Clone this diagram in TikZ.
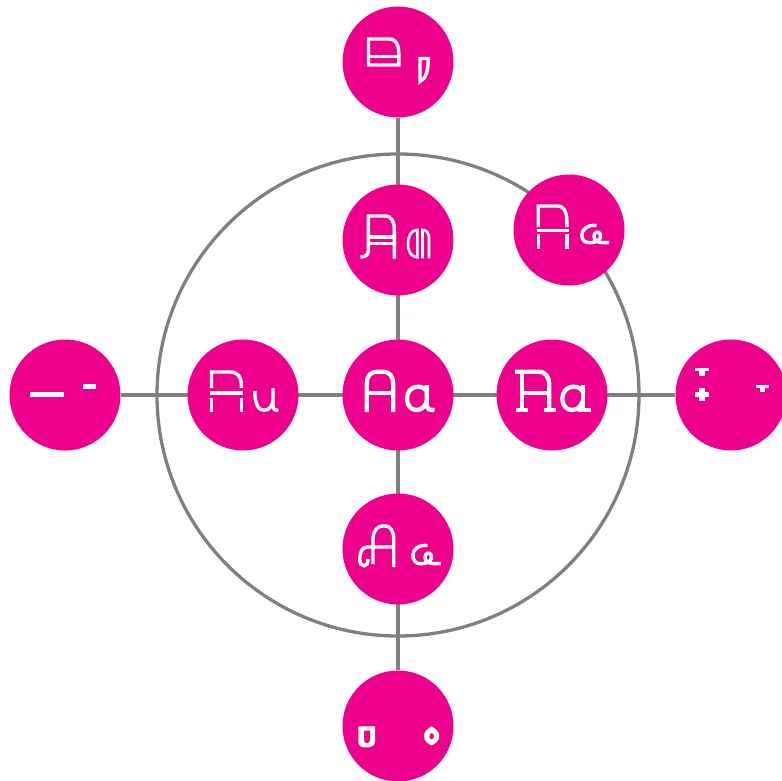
\documentclass[tikz,border=0pt]{standalone}
\usetikzlibrary{backgrounds}
\definecolor{mag}{HTML}{EC008C}
\definecolor{ax}{HTML}{808080}
\tikzset{
  dot/.style={circle,fill=mag,minimum size=111pt,inner sep=0pt},
  conn/.style={draw=ax,line width=4pt},
  ring/.style={draw=ax,line width=3.3pt},
  gl/.style={draw=white,line width=4.3pt,line cap=butt,line join=miter},
  glm/.style={gl,line width=3.4pt},
  gls/.style={gl,line width=2.6pt},
}
\begin{document}
\begin{tikzpicture}[x=1pt,y=-1pt]
\useasboundingbox (0,0) rectangle (782,781);
\clip (0,0) rectangle (782,781);
\node[dot] (t)  at (398,62)  {};
\node[dot] (t2) at (398,240) {};
\node[dot] (tr) at (569,230) {};
\node[dot] (L)  at (65,395)  {};
\node[dot] (l)  at (243,395) {};
\node[dot] (c)  at (398,395) {};
\node[dot] (r)  at (552,395) {};
\node[dot] (R)  at (731,395) {};
\node[dot] (b2) at (398,549) {};
\node[dot] (B)  at (398,726) {};
\begin{scope}[on background layer]
  \draw[ring] (c.center) circle[radius=241pt];
  \draw[conn] (t) -- (B);
  \draw[conn] (L) -- (R);
\end{scope}
% top
\begin{scope}[shift={(t.center)}]
  \draw[glm] (-29.5,3) -- (-29.5,-23) -- (-9,-23) .. controls (-2,-23) and (0.8,-17) .. (0.8,-9) -- (0.8,3) -- cycle;
  \draw[glm] (-29.5,-5.5) -- (0.8,-5.5);
  \draw[glm] (22,19.5) -- (22,-3.5) -- (30.3,-3.5) .. controls (30.3,8) and (28,17) .. cycle;
\end{scope}
% second from top
\begin{scope}[shift={(t2.center)}]
  \draw[glm] (-37.5,17) .. controls (-33,17) and (-29.7,15) .. (-29.7,11) -- (-29.7,-24) -- (-13,-24) .. controls (-6,-24) and (-3.7,-18) .. (-3.7,-10) -- (-3.7,18.7);
  \draw[glm] (-29.7,-3) -- (-3.7,-3);
  \draw[glm] (-29.7,3.7) -- (-3.7,3.7);
  \draw[gls] (19.3,-10) .. controls (12.5,-10) and (10,-3) .. (10,3.8) .. controls (10,10.5) and (12.5,17.2) .. (19.3,17.2) -- cycle;
  \draw[gls] (24.5,18.3) -- (24.5,-10) .. controls (28.5,-10) and (31,-7) .. (31,-2) -- (31,18.3);
\end{scope}
% top right
\begin{scope}[shift={(tr.center)}]
  \draw[glm] (-30.8,-3) -- (-30.8,-24) -- (-12,-24) .. controls (-5,-24) and (-2.2,-18) .. (-2.2,-10) -- (-2.2,-3);
  \draw[glm] (-32.5,0.5) -- (-0.5,0.5);
  \draw[glm] (-30.8,4) -- (-30.8,18.7);
  \draw[glm] (-2.2,4) -- (-2.2,18.7);
  \draw[glm] (27.5,-4.5) .. controls (18,-5.5) and (12.8,0) .. (12.8,5) .. controls (12.8,10.5) and (16,12.8) .. (21,12.8) .. controls (27,12.8) and (33,9.5) .. (31.5,4.5) .. controls (30,0.5) and (25,1.5) .. (25,6.5) .. controls (25,11) and (29,12.6) .. (34,12.6) -- (40,12.6);
\end{scope}
% far left
\begin{scope}[shift={(L.center)}]
  \fill[white] (-35,-3) rectangle (-0.7,2);
  \fill[white] (17.7,-11) rectangle (30.7,-6);
\end{scope}
% left
\begin{scope}[shift={(l.center)}]
  \draw[glm] (-31.5,-7) -- (-31.5,-23) -- (-13,-23) .. controls (-5,-23) and (-1.7,-18) .. (-1.7,-10) -- (-1.7,-7);
  \draw[glm] (-33.3,-2) -- (0.1,-2);
  \draw[glm] (-31.5,3) -- (-31.5,17);
  \draw[glm] (-1.7,3) -- (-1.7,17);
  \draw[glm] (11.8,-4) .. controls (11.8,9) and (15.5,15.3) .. (21,15.3) .. controls (26,15.3) and (29.5,11) .. (30,5);
  \draw[glm] (30,-7) -- (30,12) .. controls (30,14.3) and (32,15.3) .. (35.5,15.3);
\end{scope}
% center
\begin{scope}[shift={(c.center)}]
  \draw[gl] (-31.2,17) -- (-31.2,-11) .. controls (-31.2,-20) and (-27,-23.3) .. (-20,-23.3) -- (-16,-23.3) .. controls (-8,-23.3) and (-4.8,-19) .. (-4.8,-10) -- (-4.8,17);
  \draw[gl] (-31.2,-2) -- (-4.8,-2);
  \draw[gl] (28.8,-10) -- (28.8,11) .. controls (28.8,14) and (31,15) .. (36.5,15);
  \draw[gl] (28.8,-3) .. controls (27,-7.5) and (23,-8.3) .. (19.5,-8.3) .. controls (12.5,-8.3) and (9,-2) .. (9,3.5) .. controls (9,10) and (12.5,15) .. (18.5,15) .. controls (24,15) and (27.5,11) .. (28.8,5.5);
\end{scope}
% right (serif)
\begin{scope}[shift={(r.center)}]
  \draw[gl] (-37,-23.3) -- (-14,-23.3) .. controls (-6,-23.3) and (-2.8,-18) .. (-2.8,-10) -- (-2.8,17);
  \draw[gl] (-30.2,-23.3) -- (-30.2,17);
  \draw[gl] (-36.5,15) -- (-24.5,15);
  \draw[gl] (-8,15) -- (3.5,15);
  \draw[gl] (-30.2,-2) -- (-2.8,-2);
  \draw[gl] (30.8,-10) -- (30.8,15);
  \draw[gl] (25.5,15) -- (38.5,15);
  \draw[gl] (30.8,-3) .. controls (29,-7.5) and (25,-8.3) .. (21,-8.3) .. controls (14,-8.3) and (10.3,-2) .. (10.3,3.5) .. controls (10.3,10) and (14,15) .. (20,15) .. controls (25.5,15) and (29.5,11) .. (30.8,5.5);
\end{scope}
% far right
\begin{scope}[shift={(R.center)}]
  \fill[white] (-36,-27) rectangle (-22,-23.7);
  \fill[white] (-31.7,-23.7) rectangle (-26.3,-18.7);
  \fill[white] (-36,-2.7) rectangle (-22,2);
  \fill[white] (-31.7,-7) rectangle (-26.3,6.3);
  \fill[white] (25,-10.3) rectangle (38.3,-7);
  \fill[white] (29,-7) rectangle (34,-3);
\end{scope}
% second from bottom (script)
\begin{scope}[shift={(b2.center)}]
  \draw[glm] (-25,15) -- (-25,-10) .. controls (-25,-19) and (-20,-23.3) .. (-14,-23.3) .. controls (-8,-23.3) and (-4.3,-19) .. (-4.3,-10) -- (-4.3,18);
  \draw[glm] (-4.3,-2) -- (-31,-2) .. controls (-36,-2) and (-38.3,4) .. (-38.3,10) .. controls (-38.3,15) and (-36.5,16.8) .. (-34,16.8) .. controls (-31,16.8) and (-30,14) .. (-30,10);
  \draw[glm] (29.5,-3.5) .. controls (20,-4.5) and (14.8,1) .. (14.8,6) .. controls (14.8,11.5) and (18,14.8) .. (23,14.8) .. controls (29,14.8) and (35,11.5) .. (33.5,6.5) .. controls (32,2.5) and (27,3.5) .. (27,8.5) .. controls (27,13) and (31,14.6) .. (36,14.6) -- (42.5,14.6);
\end{scope}
% bottom
\begin{scope}[shift={(B.center)}]
  \fill[white,even odd rule] (-39.7,0.3) -- (-23,0.3) -- (-23,15) .. controls (-23,19) and (-26,21.3) .. (-29,21.3) -- (-34,21.3) .. controls (-37.5,21.3) and (-39.7,19) .. (-39.7,15) -- cycle
     (-34,4.7) -- (-28,4.7) -- (-28,14) .. controls (-28,16) and (-29,17) .. (-30.5,17) -- (-32,17) .. controls (-33.3,17) and (-34,16) .. (-34,14) -- cycle;
  \fill[white,even odd rule] (33.5,0.3) .. controls (38,3) and (41.3,6) .. (41.3,10) .. controls (41.3,15) and (37,18) .. (33.5,19.3) .. controls (30,18) and (26,15) .. (26,10) .. controls (26,6) and (29,3) .. (33.5,0.3) -- cycle
     (33.7,10.3) ellipse[x radius=2.3pt,y radius=3.3pt];
\end{scope}
\end{tikzpicture}
\end{document}
